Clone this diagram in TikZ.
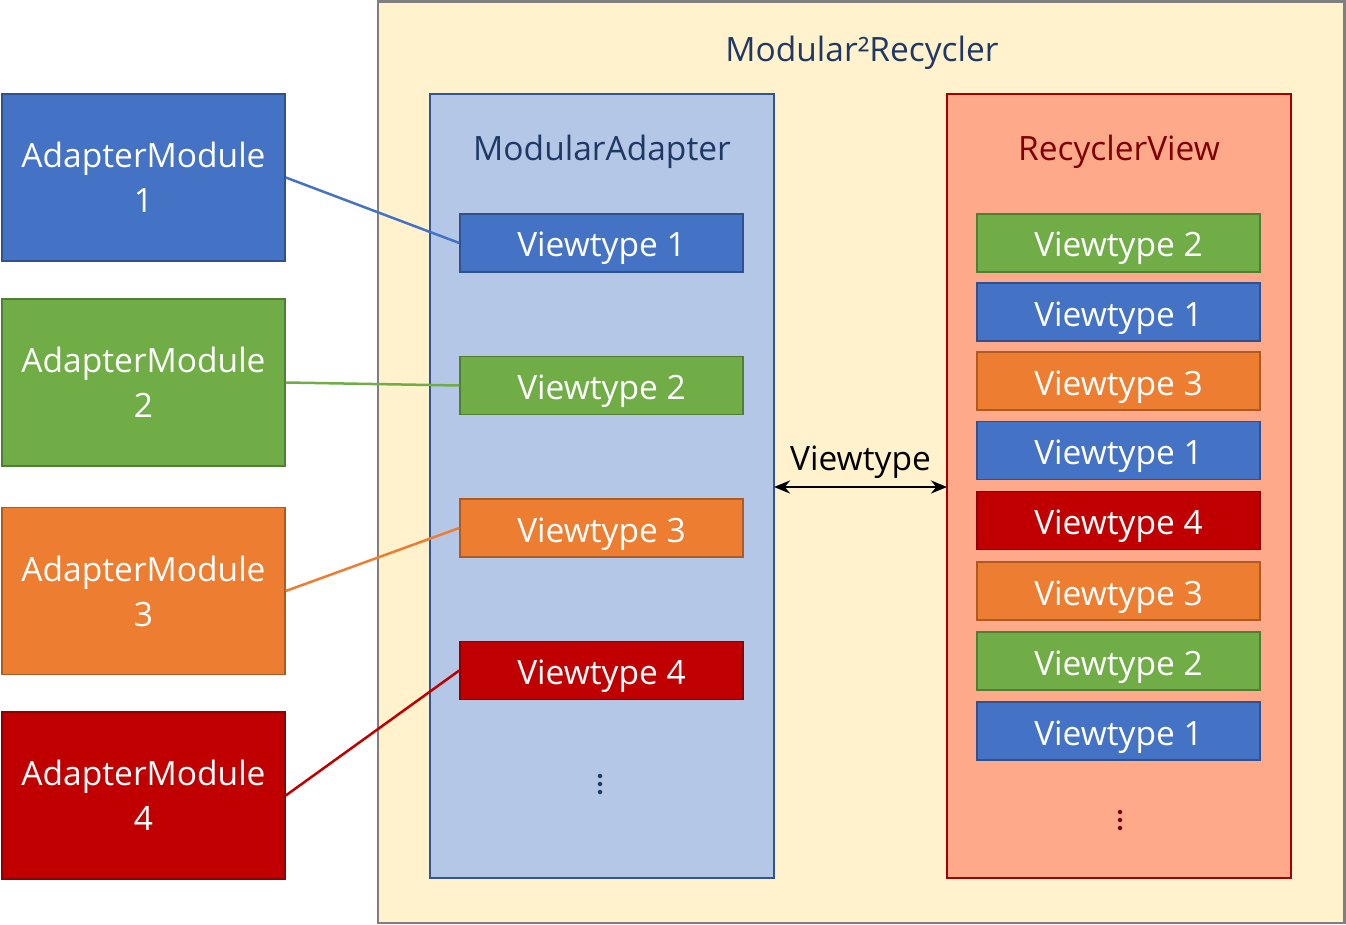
\documentclass[tikz,border=0pt]{standalone}
\usepackage{fontspec}
\setmainfont{Open Sans}
\usetikzlibrary{arrows.meta}
\definecolor{outerfill}{HTML}{FFF2CC}
\definecolor{outerdraw}{HTML}{7F7F7F}
\definecolor{adfill}{HTML}{B4C7E7}
\definecolor{addraw}{HTML}{2F5597}
\definecolor{navy}{HTML}{203864}
\definecolor{rvfill}{HTML}{FFA98B}
\definecolor{rvdraw}{HTML}{A50000}
\definecolor{rvtext}{HTML}{7F0000}
\definecolor{cblue}{HTML}{4472C4}
\definecolor{dblue}{HTML}{2F528F}
\definecolor{cgreen}{HTML}{70AD47}
\definecolor{dgreen}{HTML}{507E32}
\definecolor{corange}{HTML}{ED7D31}
\definecolor{dorange}{HTML}{AE5A21}
\definecolor{cred}{HTML}{C00000}
\definecolor{dred}{HTML}{8F0000}
\tikzset{
  bigfont/.style={font=\fontsize{33.5}{45}\selectfont},
  capc/.style={text height=28pt,text depth=0pt},
  vt/.style={minimum width=283pt,minimum height=58pt,inner sep=0pt,line width=1.5pt,text=white,bigfont,capc},
  vtblue/.style={vt,fill=cblue,draw=dblue},
  vtgreen/.style={vt,fill=cgreen,draw=dgreen},
  vtorange/.style={vt,fill=corange,draw=dorange},
  vtred/.style={vt,fill=cred,draw=dred},
  module/.style={minimum width=283pt,minimum height=167pt,inner sep=0pt,line width=1.5pt,text=white,align=center,bigfont},
  link/.style={line width=2.5pt},
  title/.style={bigfont,capc,inner sep=0pt},
  dotc/.style={circle,inner sep=0pt,minimum size=4.5pt}
}
\begin{document}
\begin{tikzpicture}[x=1pt,y=-1pt]
\useasboundingbox (0,0) rectangle (1346,925);
% outer box
\draw[fill=outerfill,draw=outerdraw,line width=2.5pt] (378,1.5) rectangle (1344.5,923);
\node[title,text=navy] (title) at (862,48) {Modular²Recycler};
% adapter
\draw[fill=adfill,draw=addraw,line width=1.5pt] (430,94) rectangle (774,878);
\node[title,text=navy] (adtitle) at (602,147) {ModularAdapter};
% recycler
\draw[fill=rvfill,draw=rvdraw,line width=1.5pt] (947,94) rectangle (1291,878);
\node[title,text=rvtext] (rvtitle) at (1119,147) {RecyclerView};
% arrow
\coordinate (adE) at (774,487);
\coordinate (rvW) at (947,487);
\draw[{Stealth[length=16pt,width=13pt]}-{Stealth[length=16pt,width=13pt]},line width=2.8pt] (adE) -- (rvW);
\node[title,text=black] (vlabel) at (860.5,456) {Viewtype};
% modules
\node[module,fill=cblue,draw=dblue] (m1) at (143.5,177.5) {AdapterModule\\1};
\node[module,fill=cgreen,draw=dgreen] (m2) at (143.5,382.5) {AdapterModule\\2};
\node[module,fill=corange,draw=dorange] (m3) at (143.5,591) {AdapterModule\\3};
\node[module,fill=cred,draw=dred] (m4) at (143.5,795.5) {AdapterModule\\4};
% adapter viewtypes
\node[vtblue] (a1) at (601.5,243) {Viewtype 1};
\node[vtgreen] (a2) at (601.5,385.5) {Viewtype 2};
\node[vtorange] (a3) at (601.5,528) {Viewtype 3};
\node[vtred] (a4) at (601.5,670.5) {Viewtype 4};
\foreach \yy [count=\i] in {776,784,792}
  \node[dotc,fill=navy] (ad\i) at (600,\yy) {};
% recycler viewtypes
\node[vtgreen] (r1) at (1118.5,243) {Viewtype 2};
\node[vtblue] (r2) at (1118.5,312) {Viewtype 1};
\node[vtorange] (r3) at (1118.5,381) {Viewtype 3};
\node[vtblue] (r4) at (1118.5,450.5) {Viewtype 1};
\node[vtred] (r5) at (1118.5,520.5) {Viewtype 4};
\node[vtorange] (r6) at (1118.5,591) {Viewtype 3};
\node[vtgreen] (r7) at (1118.5,661) {Viewtype 2};
\node[vtblue] (r8) at (1118.5,731) {Viewtype 1};
\foreach \yy [count=\i] in {812,820,828}
  \node[dotc,fill=rvtext] (rd\i) at (1120,\yy) {};
% links
\draw[link,cblue] (m1.east) -- (a1.west);
\draw[link,cgreen] (m2.east) -- (a2.west);
\draw[link,corange] (m3.east) -- (a3.west);
\draw[link,cred] (m4.east) -- (a4.west);
\end{tikzpicture}
\end{document}
